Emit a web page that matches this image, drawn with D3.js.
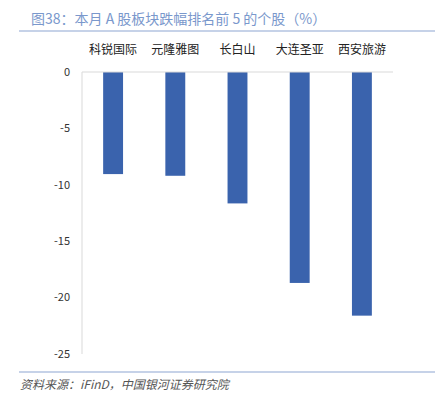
<!DOCTYPE html>
<html>
<head>
<meta charset="utf-8">
<script src="https://cdn.jsdelivr.net/npm/d3@7.9.0/dist/d3.min.js"></script>
<style>
  body { margin: 0; background: #fff; }
  svg { display: block; font-family: "Noto Sans CJK SC", "Noto Sans", sans-serif; }
</style>
</head>
<body>
<svg width="439" height="397"></svg>
<script>
const stocks = ['科锐国际', '元隆雅图', '长白山', '大连圣亚', '西安旅游'];
const changes = [-9.05, -9.2, -11.65, -18.7, -21.6];
const yTicks = [0, -5, -10, -15, -20, -25];

const svg = d3.select('svg');

// title + rules
svg.append('text')
  .attr('x', 31).attr('y', 24)
  .attr('font-size', 14).attr('fill', '#7a98cc')
  .text('图38：本月 A 股板块跌幅排名前 5 的个股（%）');
svg.append('line')
  .attr('x1', 19).attr('x2', 435).attr('y1', 31).attr('y2', 31)
  .attr('stroke', '#8ea6d2').attr('stroke-width', 1.2);
svg.append('line')
  .attr('x1', 19).attr('x2', 435).attr('y1', 372).attr('y2', 372)
  .attr('stroke', '#8ea6d2').attr('stroke-width', 1.2);

let x = d3.scaleBand().domain(stocks).range([82, 393]).paddingInner(0.68).paddingOuter(0.34);
let y = d3.scaleLinear().domain([0, -25]).range([72, 354]);

// left axis line
svg.append('line')
  .attr('x1', 82).attr('x2', 82).attr('y1', y(0)).attr('y2', y(-25))
  .attr('stroke', '#d9d9d9').attr('stroke-width', 1);

svg.selectAll('.bar')
  .data(changes)
  .join('rect')
  .attr('class', 'bar')
  .attr('x', (d, i) => x(stocks[i]))
  .attr('width', x.bandwidth())
  .attr('y', y(0))
  .attr('height', (d) => y(d) - y(0))
  .attr('fill', '#3a63ad');

// zero line
svg.append('line')
  .attr('x1', 82).attr('x2', 393).attr('y1', y(0)).attr('y2', y(0))
  .attr('stroke', '#d9d9d9').attr('stroke-width', 1);

svg.selectAll('.ytick')
  .data(yTicks)
  .join('text')
  .attr('class', 'ytick')
  .attr('x', 70).attr('y', (d) => y(d))
  .attr('dy', '0.35em')
  .attr('text-anchor', 'end')
  .attr('font-size', 11).attr('fill', '#333')
  .text((d) => d);

svg.selectAll('.cat')
  .data(stocks)
  .join('text')
  .attr('class', 'cat')
  .attr('x', (d) => x(d) + x.bandwidth() / 2)
  .attr('y', 50).attr('dy', '0.35em')
  .attr('text-anchor', 'middle')
  .attr('font-size', 12).attr('fill', '#222')
  .text((d) => d);

svg.append('text')
  .attr('x', 20).attr('y', 389)
  .attr('font-size', 12).attr('font-style', 'italic').attr('fill', '#555')
  .text('资料来源：iFinD，中国银河证券研究院');
</script>
</body>
</html>
